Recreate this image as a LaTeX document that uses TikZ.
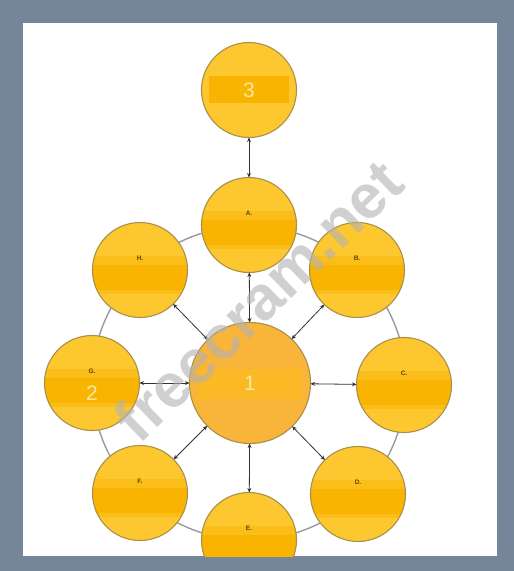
\documentclass[tikz,border=0pt]{standalone}
\usepackage{fontspec}
\setmainfont{Liberation Sans}
\usetikzlibrary{arrows.meta}
\definecolor{framec}{HTML}{76869A}
\definecolor{yel}{HTML}{FDC82F}
\definecolor{bandc}{HTML}{FBBD1A}
\definecolor{corec}{HTML}{F8B400}
\definecolor{bordc}{HTML}{A8904A}
\definecolor{cent}{HTML}{F9B43A}
\definecolor{centband}{HTML}{FBB926}
\definecolor{numc}{HTML}{FDE7A0}
\definecolor{lblc}{HTML}{5A4800}
\definecolor{ringc}{HTML}{959BA3}
\definecolor{arrc}{HTML}{333333}
\tikzset{
  circ/.style={circle, inner sep=0pt, outer sep=0pt, minimum size=95pt},
  bigcirc/.style={circle, inner sep=0pt, outer sep=0pt, minimum size=121pt},
  lbl/.style={text=lblc, font=\bfseries\fontsize{6.5}{6.5}\selectfont, inner sep=0pt},
  numlbl/.style={text=numc, font=\fontsize{21}{21}\selectfont, inner sep=0pt},
  arr/.style={draw=arrc, line width=0.8pt, {Stealth[length=4.5pt,width=4pt]}-{Stealth[length=4.5pt,width=4pt]}},
}
\newcommand{\mycirc}[4]{%
  \node[circ] (#1) at (#2,#3) {};
  \fill[yel] (#1.center) circle[radius=47.5pt];
  \begin{scope}
    \clip (#1.center) circle[radius=47.5pt];
    \fill[bandc] ([shift={(-47pt,-24pt)}]#1.center) rectangle ([shift={(47pt,14pt)}]#1.center);
    \fill[corec] ([shift={(-47pt,-20pt)}]#1.center) rectangle ([shift={(47pt,5pt)}]#1.center);
  \end{scope}
  \draw[bordc, line width=1.1pt] (#1.center) circle[radius=47.5pt];
  \node[lbl] (#1lbl) at ([yshift=12pt]#1.center) {#4};
}
\begin{document}
\begin{tikzpicture}[x=1pt,y=-1pt]
\fill[framec] (0,0) rectangle (514,571);
\fill[white] (23,23) rectangle (497,556);
\useasboundingbox (0,0) rectangle (514,571);
\begin{scope}
\clip (23,23) rectangle (497,556);
% ring
\draw[ringc, line width=1.4pt] (249,383) circle[radius=157pt];
% node 3
\node[circ] (N3) at (249,90) {};
\fill[yel] (N3.center) circle[radius=47.5pt];
\begin{scope}
  \clip (N3.center) circle[radius=47.5pt];
  \fill[corec] ([shift={(-40pt,-13pt)}]N3.center) rectangle ([shift={(40pt,14pt)}]N3.center);
\end{scope}
\draw[bordc, line width=1.1pt] (N3.center) circle[radius=47.5pt];
\node[numlbl] (N3t) at (N3.center) {3};
% outer circles
\mycirc{A}{249}{225}{A.}
\mycirc{B}{357}{270}{B.}
\mycirc{C}{404}{385}{C.}
\mycirc{D}{358}{494}{D.}
\mycirc{E}{249}{540}{E.}
\mycirc{F}{140}{493}{F.}
\mycirc{G}{92}{383}{G.}
\mycirc{H}{140}{270}{H.}
\node[numlbl] (Gt) at ([yshift=-10pt]G.center) {2};
% center
\node[bigcirc] (C1) at (250,383) {};
\fill[cent] (C1.center) circle[radius=60.5pt];
\begin{scope}
  \clip (C1.center) circle[radius=60.5pt];
  \fill[centband] ([shift={(-52pt,-16pt)}]C1.center) rectangle ([shift={(52pt,14pt)}]C1.center);
\end{scope}
\draw[bordc, line width=1.1pt] (C1.center) circle[radius=60.5pt];
\node[numlbl] (C1t) at (C1.center) {1};
% arrows
\draw[arr] (N3) -- (A);
\foreach \n in {A,B,C,D,E,F,G,H} { \draw[arr] (C1) -- (\n); }
% watermark
\node[text=gray!60, opacity=0.6, rotate=44, font=\bfseries\fontsize{62}{62}\selectfont, inner sep=0pt] (wm) at (258,300) {freecram.net};
\end{scope}
\end{tikzpicture}
\end{document}
